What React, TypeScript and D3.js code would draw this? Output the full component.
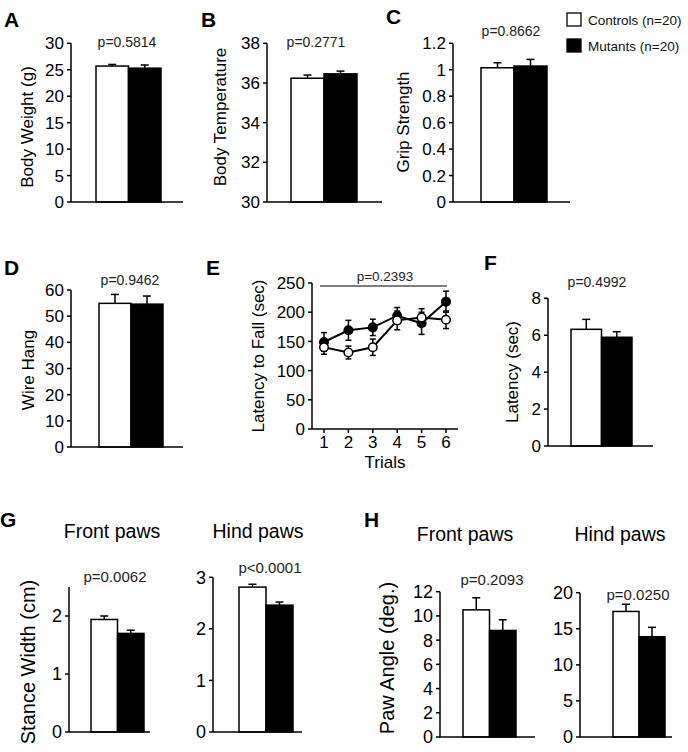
import React from "react";
import * as d3 from "d3";

// ---------------- DATA ----------------
const groups = ["Controls (n=20)", "Mutants (n=20)"];

const bodyWeight = [25.7, 25.3];
const bodyWeightErr = [0.3, 0.6];
const bodyWeightTicks = [0, 5, 10, 15, 20, 25, 30];

const bodyTemp = [36.24, 36.46];
const bodyTempErr = [0.16, 0.14];
const bodyTempTicks = [30, 32, 34, 36, 38];

const grip = [1.015, 1.028];
const gripErr = [0.038, 0.05];
const gripTicks = [0, 0.2, 0.4, 0.6, 0.8, 1, 1.2];

const wireHang = [54.9, 54.6];
const wireHangErr = [3.4, 3.1];
const wireHangTicks = [0, 10, 20, 30, 40, 50, 60];

const trials = [1, 2, 3, 4, 5, 6];
const rotarodControls = [140, 131, 140, 186, 191, 187];
const rotarodControlsErr = [12, 11, 14, 16, 15, 15];
const rotarodMutants = [149, 169, 174, 194, 181, 218];
const rotarodMutantsErr = [16, 17, 14, 14, 19, 18];
const rotarodTicks = [0, 50, 100, 150, 200, 250];

const latency = [6.32, 5.89];
const latencyErr = [0.54, 0.3];
const latencyTicks = [0, 2, 4, 6, 8];

const stanceFront = [1.94, 1.7];
const stanceFrontErr = [0.06, 0.055];
const stanceFrontTicks = [0, 1, 2];

const stanceHind = [2.81, 2.46];
const stanceHindErr = [0.055, 0.06];
const stanceHindTicks = [0, 1, 2, 3];

const angleFront = [10.5, 8.8];
const angleFrontErr = [1.0, 0.88];
const angleFrontTicks = [0, 2, 4, 6, 8, 10, 12];

const angleHind = [17.4, 13.9];
const angleHindErr = [1.0, 1.3];
const angleHindTicks = [0, 5, 10, 15, 20];

const pValues = {
  A: "p=0.5814",
  B: "p=0.2771",
  C: "p=0.8662",
  D: "p=0.9462",
  E: "p=0.2393",
  F: "p=0.4992",
  Gf: "p=0.0062",
  Gh: "p<0.0001",
  Hf: "p=0.2093",
  Hh: "p=0.0250",
};

// ---------------- STYLE ----------------
const FONT = "Liberation Sans, Arial, Helvetica, sans-serif";
const fills = ["#ffffff", "#000000"];

type BarPanelProps = {
  values: number[];
  errs: number[];
  ticks: number[];
  domain: [number, number];
  axisX: number;
  xEnd: number;
  yTop: number;
  yBottom: number;
  barRange: [number, number];
  p: string;
  pX: number;
  pY: number;
  tickFont?: number;
  pFont?: number;
};

function BarPanel(props: BarPanelProps) {
  const {
    values, errs, ticks, domain, axisX, xEnd, yTop, yBottom, barRange,
    p, pX, pY, tickFont = 17, pFont = 14,
  } = props;
  const y = d3.scaleLinear().domain(domain).range([yBottom, yTop]);
  const x = d3.scaleBand<string>().domain(groups).range(barRange).padding(0);
  const capW = 4;
  return (
    <g>
      {groups.map((g, i) => {
        const bx = x(g)!;
        const bw = x.bandwidth();
        const cx = bx + bw / 2;
        const top = y(values[i]);
        const eTop = y(values[i] + errs[i]);
        return (
          <g key={g}>
            <line x1={cx} x2={cx} y1={top} y2={eTop} stroke="#000" strokeWidth={1.5} />
            <line x1={cx - capW} x2={cx + capW} y1={eTop} y2={eTop} stroke="#000" strokeWidth={1.5} />
            <rect x={bx} y={top} width={bw} height={yBottom - top} fill={fills[i]} stroke="#000" strokeWidth={1.5} />
          </g>
        );
      })}
      <line x1={axisX} x2={axisX} y1={yTop} y2={yBottom} stroke="#000" strokeWidth={1.5} />
      <line x1={axisX} x2={xEnd} y1={yBottom} y2={yBottom} stroke="#000" strokeWidth={1.5} />
      {ticks.map((t) => (
        <g key={t}>
          <line x1={axisX - 4} x2={axisX} y1={y(t)} y2={y(t)} stroke="#000" strokeWidth={1.5} />
          <text x={axisX - 7} y={y(t)} dy="0.36em" textAnchor="end" fontSize={tickFont} fontFamily={FONT}>
            {String(t)}
          </text>
        </g>
      ))}
      <text x={pX} y={pY} textAnchor="middle" fontSize={pFont} fontFamily={FONT} fill="#222">
        {p}
      </text>
    </g>
  );
}

function YLabel({ text, x, y, size = 17 }: { text: string; x: number; y: number; size?: number }) {
  return (
    <text
      transform={`translate(${x},${y}) rotate(-90)`}
      textAnchor="middle"
      dy="0.36em"
      fontSize={size}
      fontFamily={FONT}
    >
      {text}
    </text>
  );
}

function Letter({ t, x, y }: { t: string; x: number; y: number }) {
  return (
    <text x={x} y={y} fontSize={21} fontWeight="bold" fontFamily={FONT}>
      {t}
    </text>
  );
}

function LinePanel() {
  const axisX = 312;
  const xEnd = 458;
  const yTop = 283;
  const yBottom = 429;
  const x = d3.scaleLinear().domain([1, 6]).range([324, 446]);
  const y = d3.scaleLinear().domain([0, 250]).range([yBottom, yTop]);
  const line = d3.line<number>().x((_, i) => x(trials[i])).y((d) => y(d));
  const series = [
    { vals: rotarodMutants, errs: rotarodMutantsErr, fill: "#000" },
    { vals: rotarodControls, errs: rotarodControlsErr, fill: "#fff" },
  ];
  return (
    <g>
      <line x1={axisX} x2={axisX} y1={yTop} y2={yBottom} stroke="#000" strokeWidth={1.5} />
      <line x1={axisX} x2={xEnd} y1={yBottom} y2={yBottom} stroke="#000" strokeWidth={1.5} />
      {rotarodTicks.map((t) => (
        <g key={t}>
          <line x1={axisX - 4} x2={axisX} y1={y(t)} y2={y(t)} stroke="#000" strokeWidth={1.5} />
          <text x={axisX - 7} y={y(t)} dy="0.36em" textAnchor="end" fontSize={17} fontFamily={FONT}>
            {t}
          </text>
        </g>
      ))}
      {trials.map((t) => (
        <g key={t}>
          <line x1={x(t)} x2={x(t)} y1={yBottom} y2={yBottom + 4} stroke="#000" strokeWidth={1.5} />
          <text x={x(t)} y={448} textAnchor="middle" fontSize={17} fontFamily={FONT}>
            {t}
          </text>
        </g>
      ))}
      <text x={385} y={468} textAnchor="middle" fontSize={17} fontFamily={FONT}>
        Trials
      </text>
      {series.map((s, si) => (
        <g key={si}>
          <path d={line(s.vals) || ""} fill="none" stroke="#000" strokeWidth={2} />
          {s.vals.map((v, i) => {
            const cx = x(trials[i]);
            const y1 = y(v - s.errs[i]);
            const y2 = y(v + s.errs[i]);
            return (
              <g key={i}>
                <line x1={cx} x2={cx} y1={y1} y2={y2} stroke="#000" strokeWidth={1.5} />
                <line x1={cx - 3} x2={cx + 3} y1={y1} y2={y1} stroke="#000" strokeWidth={1.5} />
                <line x1={cx - 3} x2={cx + 3} y1={y2} y2={y2} stroke="#000" strokeWidth={1.5} />
              </g>
            );
          })}
          {s.vals.map((v, i) => (
            <circle key={"c" + i} cx={x(trials[i])} cy={y(v)} r={4.3} fill={s.fill} stroke="#000" strokeWidth={1.5} />
          ))}
        </g>
      ))}
      <line x1={320} x2={447} y1={286} y2={286} stroke="#000" strokeWidth={1.2} />
      <text x={385} y={281} textAnchor="middle" fontSize={13.5} fontFamily={FONT} fill="#222">
        {pValues.E}
      </text>
    </g>
  );
}

export default function App() {
  return (
    <svg
      width={688}
      height={752}
      viewBox="0 0 688 752"
      style={{ position: "absolute", left: 0, top: 0, background: "#fff" }}
    >
      <rect x={0} y={0} width={688} height={752} fill="#fff" />

      {/* Row 1 */}
      <Letter t="A" x={4} y={27} />
      <YLabel text="Body Weight (g)" x={27} y={127} />
      <BarPanel values={bodyWeight} errs={bodyWeightErr} ticks={bodyWeightTicks} domain={[0, 30]}
        axisX={71} xEnd={183} yTop={43.3} yBottom={202} barRange={[96, 161]}
        p={pValues.A} pX={127} pY={47} />

      <Letter t="B" x={201} y={27} />
      <YLabel text="Body Temperature" x={220} y={117} />
      <BarPanel values={bodyTemp} errs={bodyTempErr} ticks={bodyTempTicks} domain={[30, 38]}
        axisX={267} xEnd={382} yTop={43.3} yBottom={202} barRange={[291, 357]}
        p={pValues.B} pX={316} pY={47} />

      <Letter t="C" x={386} y={24} />
      <YLabel text="Grip Strength" x={403} y={122} />
      <BarPanel values={grip} errs={gripErr} ticks={gripTicks} domain={[0, 1.2]}
        axisX={453} xEnd={570} yTop={43.3} yBottom={202} barRange={[481, 547]}
        p={pValues.C} pX={511} pY={36} />

      {/* Legend */}
      {groups.map((g, i) => (
        <g key={g}>
          <rect x={567} y={13 + i * 26} width={14} height={13} fill={fills[i]} stroke="#000" strokeWidth={1.3} />
          <text x={588} y={25 + i * 26} fontSize={13.5} fontFamily={FONT} fill="#111">
            {g}
          </text>
        </g>
      ))}

      {/* Row 2 */}
      <Letter t="D" x={4} y={275} />
      <YLabel text="Wire Hang" x={28} y={370} />
      <BarPanel values={wireHang} errs={wireHangErr} ticks={wireHangTicks} domain={[0, 60]}
        axisX={71} xEnd={183} yTop={290} yBottom={447} barRange={[99, 163]}
        p={pValues.D} pX={130} pY={285} />

      <Letter t="E" x={206} y={275} />
      <YLabel text="Latency to Fall (sec)" x={258} y={356} />
      <LinePanel />

      <Letter t="F" x={484} y={270} />
      <YLabel text="Latency (sec)" x={512} y={372} />
      <BarPanel values={latency} errs={latencyErr} ticks={latencyTicks} domain={[0, 8]}
        axisX={548} xEnd={653} yTop={298.3} yBottom={446} barRange={[571, 632]}
        p={pValues.F} pX={597} pY={287} />

      {/* Row 3 */}
      <Letter t="G" x={0} y={527} />
      <YLabel text="Stance Width (cm)" x={28} y={662} size={20} />
      <text x={112} y={538} textAnchor="middle" fontSize={19.5} fontFamily={FONT}>Front paws</text>
      <BarPanel values={stanceFront} errs={stanceFrontErr} ticks={stanceFrontTicks} domain={[0, 2.5]}
        axisX={69} xEnd={150} yTop={587} yBottom={732} barRange={[91, 144]}
        p={pValues.Gf} pX={115} pY={582} tickFont={18} pFont={15} />
      <text x={258} y={538} textAnchor="middle" fontSize={19.5} fontFamily={FONT}>Hind paws</text>
      <BarPanel values={stanceHind} errs={stanceHindErr} ticks={stanceHindTicks} domain={[0, 3]}
        axisX={213} xEnd={302} yTop={577.3} yBottom={732} barRange={[239, 293]}
        p={pValues.Gh} pX={270} pY={573} tickFont={18} pFont={15} />

      <Letter t="H" x={364} y={527} />
      <YLabel text="Paw Angle (deg.)" x={387} y={658} size={20} />
      <text x={465} y={541} textAnchor="middle" fontSize={19.5} fontFamily={FONT}>Front paws</text>
      <BarPanel values={angleFront} errs={angleFrontErr} ticks={angleFrontTicks} domain={[0, 12]}
        axisX={440} xEnd={535} yTop={591.7} yBottom={737} barRange={[463, 516]}
        p={pValues.Hf} pX={492} pY={585} tickFont={18} pFont={15} />
      <text x={620} y={541} textAnchor="middle" fontSize={19.5} fontFamily={FONT}>Hind paws</text>
      <BarPanel values={angleHind} errs={angleHindErr} ticks={angleHindTicks} domain={[0, 20]}
        axisX={580} xEnd={672} yTop={592.7} yBottom={737} barRange={[613, 665]}
        p={pValues.Hh} pX={638} pY={600} tickFont={18} pFont={15} />
    </svg>
  );
}
